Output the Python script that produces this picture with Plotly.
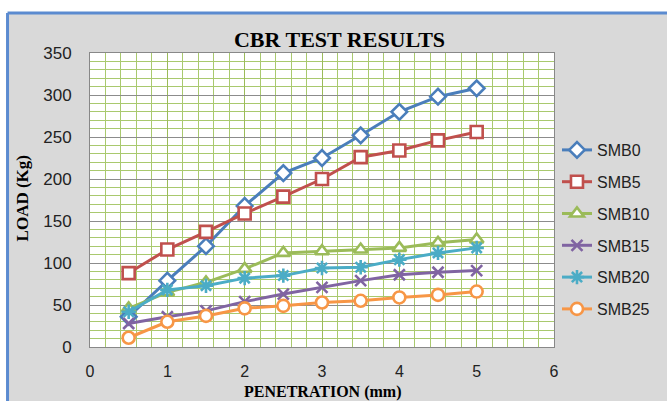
import plotly.graph_objects as go

penetration = [0.5, 1, 1.5, 2, 2.5, 3, 3.5, 4, 4.5, 5]
smb0 = [36, 79, 120, 168, 207, 225, 252, 280, 298, 308]
smb5 = [88, 116, 137, 159, 179, 200, 226, 234, 246, 256]
smb10 = [46, 65, 77, 93, 112, 114, 116, 118, 124, 128]
smb15 = [28, 36, 43, 54, 63, 71, 79, 86, 89, 91]
smb20 = [42, 68, 73, 82, 85, 94, 95, 104, 112, 118]
smb25 = [11, 30, 37, 46, 49, 53, 55, 59, 62, 66]

series_names = ["SMB0", "SMB5", "SMB10", "SMB15", "SMB20", "SMB25"]
series_values = [smb0, smb5, smb10, smb15, smb20, smb25]
colors = ["#4A7EBB", "#C0504D", "#9BBB59", "#8064A2", "#4BACC6", "#F79646"]
symbols = ["diamond", "square", "triangle-up", "x-thin", "asterisk", "circle"]
sizes = [12, 12, 12, 11, 12, 12]

fig = go.Figure()
for name, vals, c, sym, sz in zip(series_names, series_values, colors, symbols, sizes):
    fig.add_trace(go.Scatter(
        x=penetration, y=vals, name=name, mode="lines+markers",
        legendgroup=name,
        line=dict(color=c, width=3),
        marker=dict(symbol=sym, size=sz, color="white",
                    line=dict(color=c, width=2.6)),
    ))

L, T, R, B = 90, 53, 557, 347
W, H = R - L, B - T
def px(x):
    return (x - L) / W
def py(y):
    return (B - y) / H

shapes = [
    dict(type="rect", xref="paper", yref="paper", x0=-1, x1=2, y0=py(13), y1=py(-5),
         fillcolor="white", line=dict(width=0), layer="below"),
    dict(type="rect", xref="paper", yref="paper", x0=px(-5), x1=px(7), y0=-1, y1=2,
         fillcolor="white", line=dict(width=0), layer="below"),
    dict(type="line", xref="paper", yref="paper", x0=px(7), x1=2, y0=py(13), y1=py(13),
         line=dict(color="#5B8BD0", width=3)),
    dict(type="line", xref="paper", yref="paper", x0=px(7), x1=px(7), y0=-1, y1=py(13),
         line=dict(color="#5B8BD0", width=3)),
]

fig.update_layout(
    width=667, height=401,
    margin=dict(l=L, r=667 - R, t=T, b=401 - B),
    paper_bgcolor="#D9D9D9", plot_bgcolor="white",
    shapes=shapes,
    title=dict(text="<b>CBR TEST RESULTS</b>", x=339.5 / 667, xanchor="center",
               y=1 - 39 / 401, yanchor="middle", yref="container",
               font=dict(family="Liberation Serif", size=22, color="black")),
    showlegend=True,
    legend=dict(x=px(560), xanchor="left", y=py(133), yanchor="top",
                font=dict(family="Liberation Sans", size=16, color="#222"),
                tracegroupgap=8, bgcolor="rgba(0,0,0,0)"),
    font=dict(family="Liberation Sans", size=17, color="#222"),
    annotations=[
        dict(text="<b>LOAD (Kg)</b>", xref="paper", yref="paper", x=px(22), y=py(198),
             textangle=-90, showarrow=False, xanchor="center", yanchor="middle",
             font=dict(family="Liberation Serif", size=17, color="black")),
        dict(text="<b>PENETRATION (mm)</b>", xref="paper", yref="paper", x=px(323.5), y=py(392),
             showarrow=False, xanchor="center", yanchor="middle",
             font=dict(family="Liberation Serif", size=16, color="black")),
    ],
)

fig.update_xaxes(
    range=[0, 6], dtick=1, tick0=0,
    showgrid=True, gridcolor="#9BBB59", gridwidth=1,
    minor=dict(dtick=0.2, showgrid=True, gridcolor="#A9C96E", gridwidth=1),
    showline=True, linecolor="#888888", linewidth=1, mirror=True,
    ticks="outside", ticklen=10, tickcolor="rgba(0,0,0,0)",
    zeroline=False,
    tickfont=dict(family="Liberation Sans", size=16, color="#222"),
)
fig.update_yaxes(
    range=[0, 350], dtick=50, tick0=0,
    showgrid=True, gridcolor="#8C8C8C", gridwidth=1,
    minor=dict(dtick=10, showgrid=True, gridcolor="#A9C96E", gridwidth=1),
    showline=True, linecolor="#888888", linewidth=1, mirror=True,
    ticks="outside", ticklen=14, tickcolor="rgba(0,0,0,0)",
    zeroline=False,
    tickfont=dict(family="Liberation Sans", size=17, color="#222"),
)

fig.write_html("out.html")
